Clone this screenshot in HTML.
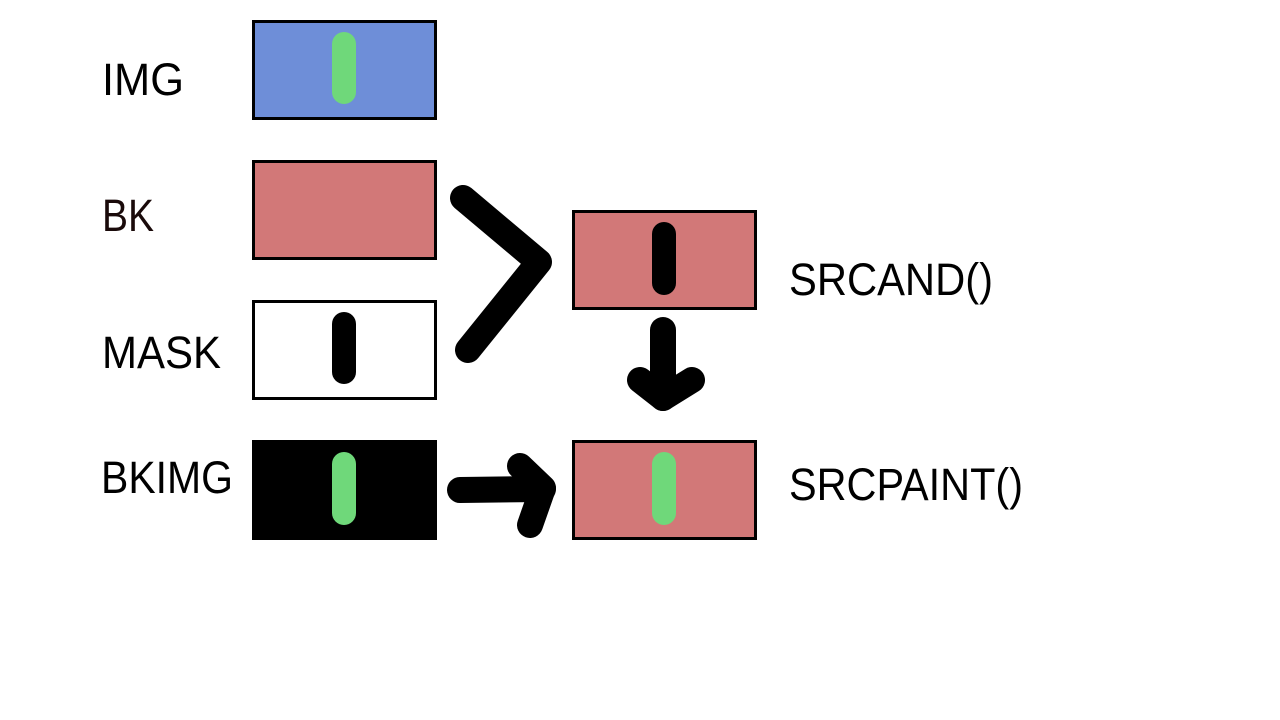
<!DOCTYPE html>
<html><head><style>body{margin:0;background:#fff}</style></head><body>
<svg width="1280" height="720" xmlns="http://www.w3.org/2000/svg" style="display:block">
<rect width="1280" height="720" fill="#fff"/>
<g font-family="Liberation Sans, sans-serif" font-size="45" fill="#000">
<text x="102" y="95" textLength="82" lengthAdjust="spacingAndGlyphs">IMG</text>
<text x="102" y="231" textLength="52" lengthAdjust="spacingAndGlyphs" fill="#1a0a0a">BK</text>
<text x="102" y="368" textLength="119" lengthAdjust="spacingAndGlyphs">MASK</text>
<text x="101" y="493" textLength="132" lengthAdjust="spacingAndGlyphs">BKIMG</text>
<text x="789" y="295" textLength="204" lengthAdjust="spacingAndGlyphs">SRCAND()</text>
<text x="789" y="500" textLength="234" lengthAdjust="spacingAndGlyphs">SRCPAINT()</text>
</g>
<g stroke="#000" stroke-width="3">
<rect x="253.5" y="21.5" width="182" height="97" fill="#6e8ed8"/>
<rect x="253.5" y="161.5" width="182" height="97" fill="#d27878"/>
<rect x="253.5" y="301.5" width="182" height="97" fill="#fff"/>
<rect x="253.5" y="441.5" width="182" height="97" fill="#000"/>
<rect x="573.5" y="211.5" width="182" height="97" fill="#d27878"/>
<rect x="573.5" y="441.5" width="182" height="97" fill="#d27878"/>
</g>
<g stroke-linecap="round" stroke-width="24" fill="none">
<line x1="344" y1="44" x2="344" y2="92" stroke="#6fd87a"/>
<line x1="344" y1="324" x2="344" y2="372" stroke="#000"/>
<line x1="344" y1="464" x2="344" y2="513" stroke="#6fd87a"/>
<line x1="664" y1="234" x2="664" y2="283" stroke="#000"/>
<line x1="664" y1="464" x2="664" y2="513" stroke="#6fd87a"/>
</g>
<g stroke="#000" stroke-width="26" stroke-linecap="round" stroke-linejoin="round" fill="none">
<polyline points="463,198 539,262 468,350"/>
<line x1="663" y1="330" x2="663" y2="398"/>
<polyline points="640,380 663,398 692,380"/>
<line x1="460" y1="490" x2="543" y2="489"/>
<polyline points="520,466 543,488 530,525"/>
</g>
</svg>
</body></html>
